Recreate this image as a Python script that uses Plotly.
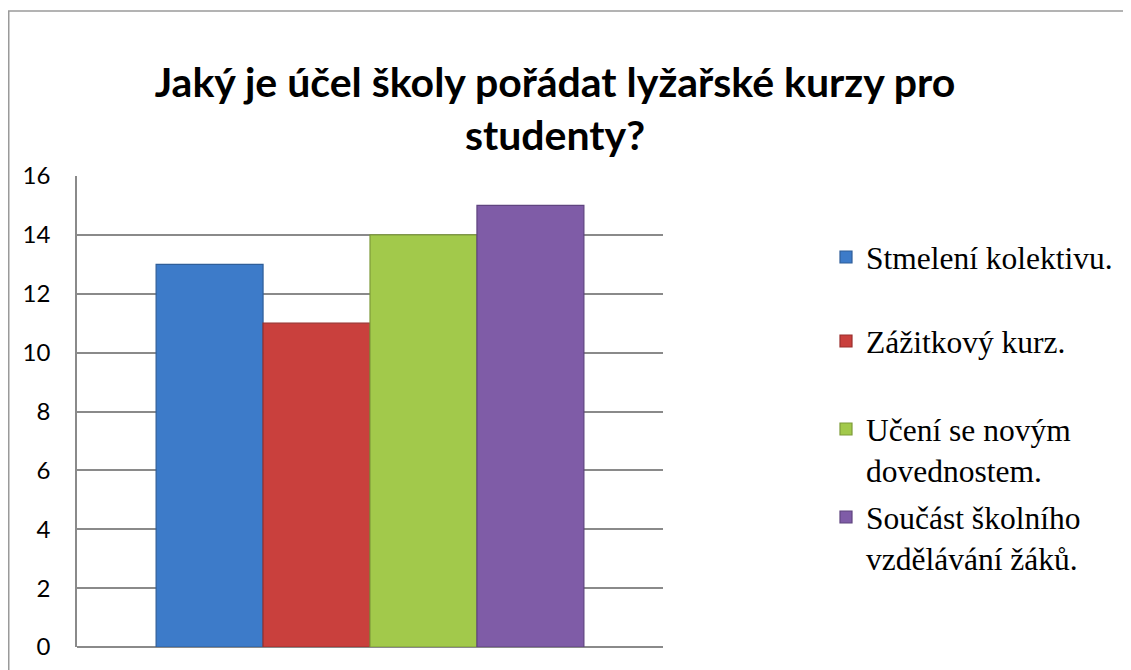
import plotly.graph_objects as go

# ---- data ----
categories = [""]
series_names = [
    "Stmelení kolektivu.",
    "Zážitkový kurz.",
    "Učení se novým<br>dovednostem.",
    "Součást školního<br>vzdělávání žáků.",
]
series_values = [13, 11, 14, 15]
series_colors = ["#3D7BC9", "#C9403D", "#A2C94B", "#7F5CA7"]
series_edges = ["#2F5E99", "#9A2F2D", "#7D9B39", "#5F447F"]
y_ticks = [0, 2, 4, 6, 8, 10, 12, 14, 16]
title_text = "Jaký je účel školy pořádat lyžařské kurzy pro<br>studenty?"

OFF = 8  # page body margin
W, H = 1131 - OFF, 670 - OFF
# plot area in page pixels
PL, PR, PT, PB = 77, 663, 176, 647
L, R, T, B = PL - OFF, PR - OFF, PT - OFF, PB - OFF

def px_x(px):  # page px -> paper
    return (px - OFF - L) / (R - L)

def px_y(py):
    return (B - (py - OFF)) / (B - T)

legend_tops = [230, 314, 402, 490]
legend_keys = ["legend", "legend2", "legend3", "legend4"]

fig = go.Figure()
for name, val, col, edge, lk in zip(series_names, series_values, series_colors, series_edges, legend_keys):
    fig.add_trace(go.Bar(
        x=categories, y=[val], name=name,
        marker=dict(color=col, line=dict(color=edge, width=1.2)),
        legend=lk,
    ))

layout_legends = {}
for lk, top in zip(legend_keys, legend_tops):
    layout_legends[lk] = dict(
        x=px_x(826), y=px_y(top),
        xanchor="left", yanchor="top", valign="top",
        font=dict(family="Liberation Serif", size=31.5, color="#000000"),
        bgcolor="rgba(0,0,0,0)", itemwidth=30,
    )

fig.update_layout(
    width=W, height=H,
    margin=dict(l=L, r=W - R, t=T, b=H - B, pad=0, autoexpand=False),
    paper_bgcolor="white", plot_bgcolor="white",
    barmode="group", bargap=0.27, bargroupgap=0,
    showlegend=True,
    title=dict(
        text=title_text,
        font=dict(family="Lato", size=41, color="#000000", weight="bold"),
        x=(555 - OFF) / W, xref="container", xanchor="center",
        y=1 - (97 - OFF) / H, yref="container", yanchor="top",
    ),
    xaxis=dict(showticklabels=False, showgrid=False, zeroline=False,
               showline=False, ticks=""),
    yaxis=dict(range=[0, 16], tickvals=y_ticks, ticktext=[str(v) for v in y_ticks],
               showgrid=True, gridcolor="#8A8A8A", gridwidth=1.5,
               zeroline=True, zerolinecolor="#8A8A8A", zerolinewidth=1.5,
               showline=True, linecolor="#8A8A8A", linewidth=1.5,
               ticks="", ticklabelstandoff=20,
               tickfont=dict(family="Lato", size=24, color="#000000")),
    shapes=[dict(type="rect", xref="paper", yref="paper",
                 x0=px_x(8.75), x1=px_x(1300), y0=px_y(760), y1=px_y(11),
                 line=dict(color="#9A9A9A", width=1.5), layer="below")],
    **layout_legends,
)

fig.write_html("out.html")
